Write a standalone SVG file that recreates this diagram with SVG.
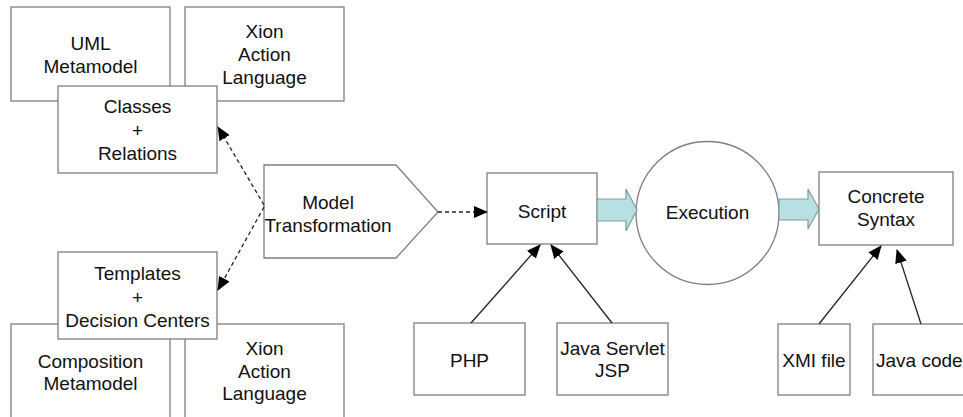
<svg xmlns="http://www.w3.org/2000/svg" width="963" height="417" viewBox="0 0 963 417">
<style>
.box{fill:#fff;stroke:#7f7f7f;stroke-width:1.3}
.t{font-family:"Liberation Sans",Arial,sans-serif;font-size:19px;fill:#111;text-anchor:middle}
.solid{stroke:#222;stroke-width:1.3;fill:none}
.dash{stroke:#222;stroke-width:1.3;fill:none;stroke-dasharray:4 3}
.block{fill:#b8dfe1;stroke:#7f9c9e;stroke-width:1.2}
</style>
<defs>
<marker id="ah" markerWidth="14" markerHeight="12" refX="13" refY="6" orient="auto" markerUnits="userSpaceOnUse">
<path d="M0,0 L14,6 L0,12 Z" fill="#000"/>
</marker>
</defs>
<rect width="963" height="417" fill="#fff"/>
<g id="uml-metamodel"><rect class="box" x="11" y="7" width="159" height="94"/><text class="t" x="90.5" y="50">UML</text><text class="t" x="90.5" y="73">Metamodel</text></g>
<g id="xion-top"><rect class="box" x="185" y="7" width="159" height="94"/><text class="t" x="264.5" y="38">Xion</text><text class="t" x="264.5" y="61">Action</text><text class="t" x="264.5" y="84">Language</text></g>
<g id="classes-relations"><rect class="box" x="58" y="86" width="159" height="87"/><text class="t" x="137.5" y="113">Classes</text><text class="t" x="137.5" y="136.5">+</text><text class="t" x="137.5" y="160">Relations</text></g>
<g id="composition-metamodel"><rect class="box" x="11" y="324" width="159" height="100"/><text class="t" x="90.5" y="368">Composition</text><text class="t" x="90.5" y="390">Metamodel</text></g>
<g id="xion-bottom"><rect class="box" x="185" y="324" width="159" height="100"/><text class="t" x="264.5" y="355">Xion</text><text class="t" x="264.5" y="378">Action</text><text class="t" x="264.5" y="400">Language</text></g>
<g id="templates-decision"><rect class="box" x="58" y="252" width="159" height="87"/><text class="t" x="137.5" y="280">Templates</text><text class="t" x="137.5" y="303.5">+</text><text class="t" x="137.5" y="327">Decision Centers</text></g>
<g id="model-transformation"><polygon class="box" points="264,165 396,165 438,212 396,258 264,258"/><text class="t" x="328" y="209">Model</text><text class="t" x="328" y="232">Transformation</text></g>
<g id="script"><rect class="box" x="487" y="173" width="110" height="71"/><text class="t" x="542" y="218">Script</text></g>
<g id="execution"><circle class="box" cx="707.5" cy="213" r="71.5"/><text class="t" x="707.5" y="219">Execution</text></g>
<g id="concrete-syntax"><rect class="box" x="819" y="172" width="134" height="73"/><text class="t" x="886" y="203">Concrete</text><text class="t" x="886" y="226">Syntax</text></g>
<g id="php"><rect class="box" x="414" y="323" width="111" height="72"/><text class="t" x="469.5" y="367">PHP</text></g>
<g id="java-servlet"><rect class="box" x="557" y="323" width="111" height="72"/><text class="t" x="612.5" y="355">Java Servlet</text><text class="t" x="612.5" y="377">JSP</text></g>
<g id="xmi-file"><rect class="box" x="778" y="324" width="72" height="71"/><text class="t" x="814" y="367">XMI file</text></g>
<g id="java-code"><rect class="box" x="873" y="324" width="100" height="71"/><text class="t" x="876" y="367" style="text-anchor:start">Java code</text></g>
<g id="connectors">
<line class="dash" x1="264" y1="205" x2="218" y2="127" marker-end="url(#ah)"/>
<line class="dash" x1="264" y1="207" x2="218" y2="290" marker-end="url(#ah)"/>
<line class="dash" x1="438" y1="212" x2="487" y2="212" marker-end="url(#ah)"/>
<path class="block" d="M597,199 L626,199 L626,189 L637,210 L626,231 L626,221 L597,221 Z"/>
<path class="block" d="M779,199 L808,199 L808,189 L819,209 L808,229 L808,220 L779,220 Z"/>
<line class="solid" x1="471" y1="323" x2="540" y2="245" marker-end="url(#ah)"/>
<line class="solid" x1="612" y1="323" x2="551" y2="245" marker-end="url(#ah)"/>
<line class="solid" x1="819" y1="324" x2="881" y2="246" marker-end="url(#ah)"/>
<line class="solid" x1="921" y1="324" x2="897" y2="250" marker-end="url(#ah)"/>
</g>
</svg>
